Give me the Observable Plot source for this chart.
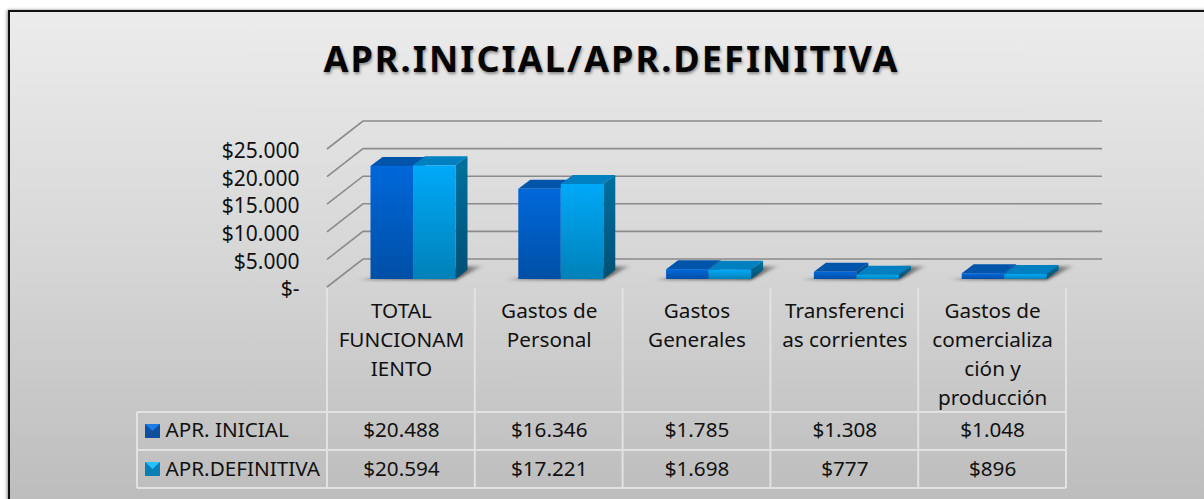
<!DOCTYPE html>
<html lang="es">
<head>
<meta charset="utf-8">
<title>APR.INICIAL/APR.DEFINITIVA</title>
<script src="https://cdn.jsdelivr.net/npm/d3@7"></script>
<script src="https://cdn.jsdelivr.net/npm/@observablehq/plot@0.6"></script>
<style>
  html, body { margin: 0; padding: 0; width: 1204px; height: 499px; overflow: hidden; background: #fff; }
  #panel { position: absolute; left: 8px; top: 10px; width: 1210px; height: 500px; box-sizing: border-box;
    border: 2px solid #111; background: linear-gradient(180deg, #ececec 0%, #d6d6d6 50%, #bcbcbc 100%);
    box-shadow: -1px 0 3px rgba(0,0,0,.45); }
  #title { position: absolute; left: 0; width: 1223px; top: 37px; margin: 0; text-align: center; color: #050505;
    font: 700 36px/44px "Noto Sans", sans-serif; letter-spacing: 2.1px; text-shadow: 1px 2px 3px rgba(0,0,0,.4); }
  #chart { position: absolute; left: 0; top: 0; }
  #chart svg { display: block; background: transparent; }
</style>
</head>
<body>
<div id="panel"></div>
<h1 id="title">APR.INICIAL/APR.DEFINITIVA</h1>
<div id="chart"></div>
<script>
const categories = ["TOTAL FUNCIONAMIENTO", "Gastos de Personal", "Gastos Generales", "Transferencias corrientes", "Gastos de comercialización y producción"];
const categoryLabels = ["TOTAL\nFUNCIONAM\nIENTO", "Gastos de\nPersonal", "Gastos\nGenerales", "Transferenci\nas corrientes", "Gastos de\ncomercializa\nción y\nproducción"];
const aprInicial = [20488, 16346, 1785, 1308, 1048];
const aprDefinitiva = [20594, 17221, 1698, 777, 896];
const seriesNames = ["APR. INICIAL", "APR.DEFINITIVA"];
const yTicks = [0, 5000, 10000, 15000, 20000, 25000];

const money = v => v === 0 ? "$-" : "$" + d3.format(",")(v).replace(/,/g, ".");
const rows = values => categories.map((cat, i) => ({cat, value: values[i]}));
const rowsA = rows(aprInicial), rowsB = rows(aprDefinitiva);

const FONT = '"Noto Sans", sans-serif';
const depth = {dx: 36, dy: -28};          // wall depth
const barShift = {dx: 0, dy: -8};         // bars stand a little inside the floor
const box = {dx: 12, dy: -9};             // depth of each bar
const barInset = 43.5, barWidth = 42.5;
const tableTop = 412, tableMid = 450, tableBottom = 488, tableLeft = 137, headTop = 288;

const poly = (g, pts, fill) => g.append("polygon").attr("points", pts.map(p => p.join(",")).join(" ")).attr("fill", fill);

function defs(g) {
  const d = g.append("defs");
  const grad = (id, c1, c2) => {
    const l = d.append("linearGradient").attr("id", id).attr("gradientUnits", "objectBoundingBox").attr("x1", 0).attr("y1", 0).attr("x2", 0).attr("y2", 1);
    l.append("stop").attr("offset", 0).attr("stop-color", c1);
    l.append("stop").attr("offset", 1).attr("stop-color", c2);
  };
  grad("frontA", "#0068da", "#004fa6");
  grad("frontB", "#00a9f8", "#0081b9");
  grad("sideA", "#004f9c", "#003c78");
  grad("sideB", "#00719f", "#004f74");
  const s = d.append("linearGradient").attr("id", "shadow").attr("x1", 0).attr("y1", 0).attr("x2", 1).attr("y2", 0);
  s.append("stop").attr("offset", 0).attr("stop-color", "#444").attr("stop-opacity", 0);
  s.append("stop").attr("offset", .12).attr("stop-color", "#444").attr("stop-opacity", .55);
  s.append("stop").attr("offset", .8).attr("stop-color", "#333").attr("stop-opacity", .85);
  s.append("stop").attr("offset", 1).attr("stop-color", "#333").attr("stop-opacity", .1);
  d.append("filter").attr("id", "blur").attr("x", "-20%").attr("y", "-50%").attr("width", "140%").attr("height", "200%")
    .append("feGaussianBlur").attr("stdDeviation", 1.4);
}

// Walls, gridlines and the data-table rules, positioned from the plot's scales.
function frameMark(index, {x, y}) {
  const g = d3.create("svg:g");
  defs(g);
  const xStart = x(categories[0]);
  const xEnd = x(categories[categories.length - 1]) + x.bandwidth();
  for (const t of yTicks) {
    g.append("polyline")
      .attr("points", `${xStart},${y(t)} ${xStart + depth.dx},${y(t) + depth.dy} ${xEnd + depth.dx},${y(t) + depth.dy}`)
      .attr("fill", "none").attr("stroke", "#8b8b8b").attr("stroke-width", 1.6);
  }
  const rule = (x1, y1, x2, y2) => g.append("line").attr("x1", x1).attr("y1", y1).attr("x2", x2).attr("y2", y2)
    .attr("stroke", "#e2e2e2").attr("stroke-width", 2);
  for (const c of categories) rule(x(c), headTop, x(c), tableBottom);
  rule(xEnd, headTop, xEnd, tableBottom);
  rule(tableLeft, tableTop, tableLeft, tableBottom);
  for (const yy of [tableTop, tableMid, tableBottom]) rule(tableLeft, yy, xEnd, yy);
  // legend keys of the data table
  const key = (y0, base, top) => {
    const x0 = tableLeft + 8, s = 15;
    poly(g, [[x0, y0], [x0 + s, y0], [x0 + s, y0 + s - 1], [x0, y0 + s - 1]], base);
    poly(g, [[x0, y0], [x0 + s, y0], [x0 + s / 2, y0 + 7]], top);
  };
  key(tableTop + 12, "#0e4f9e", "#1c7ce6");
  key(tableMid + 12, "#0a7fb6", "#25c2ff");
  return g.node();
}

// Floor shadow of each pair of bars
function shadowRender(I, scales, v) {
  const g = d3.create("svg:g");
  for (const i of I) {
    const x0 = v.x[i] + barInset, y0 = v.y1[i] + barShift.dy;
    g.append("polygon")
      .attr("points", `${x0 - 15},${y0 + 1} ${x0 + 2 * barWidth},${y0 + 1} ${x0 + 2 * barWidth + 28},${y0 - 13} ${x0 + 2 * barWidth + 14},${y0 - 13}`)
      .attr("fill", "url(#shadow)").attr("filter", "url(#blur)");
  }
  return g.node();
}

// One 3-D bar: front, top and side faces
const barRender = (slot, front, side, top) => (I, scales, v) => {
  const g = d3.create("svg:g");
  for (const i of I) {
    const x0 = v.x[i] + barInset + slot * barWidth, x1 = x0 + barWidth;
    const yb = v.y1[i] + barShift.dy, yt = v.y2[i] + barShift.dy;
    poly(g, [[x0, yt], [x1, yt], [x1 + box.dx, yt + box.dy], [x0 + box.dx, yt + box.dy]], top);
    poly(g, [[x1, yt], [x1 + box.dx, yt + box.dy], [x1 + box.dx, yb + box.dy], [x1, yb]], side);
    g.append("rect").attr("x", x0).attr("y", yt).attr("width", barWidth).attr("height", yb - yt).attr("fill", front);
  }
  return g.node();
};

const textOpts = {fontSize: 20.7, fill: "#111", fontFamily: FONT};
const legendOpts = {frameAnchor: "left", textAnchor: "start", dx: -162, lineAnchor: "middle", ...textOpts};

const plot = Plot.plot({
  width: 1204, height: 499,
  marginLeft: 327, marginRight: 138, marginTop: 149, marginBottom: 212,
  style: {background: "transparent", fontFamily: FONT},
  x: {type: "band", domain: categories, padding: 0, round: false, axis: null},
  y: {domain: [0, 25000]},
  marks: [
    frameMark,
    Plot.axisY({ticks: yTicks, tickSize: 0, tickPadding: 28, dy: 2, tickFormat: money, label: null, fontSize: 21, fill: "#111"}),
    Plot.barY(rowsB, {x: "cat", y: "value", render: shadowRender}),
    Plot.barY(rowsA, {x: "cat", y: "value", render: barRender(0, "url(#frontA)", "url(#sideA)", "#0055aa")}),
    Plot.barY(rowsB, {x: "cat", y: "value", render: barRender(1, "url(#frontB)", "url(#sideB)", "#0080c0")}),
    Plot.text(categories, {x: d => d, text: (d, i) => categoryLabels[i], frameAnchor: "top", lineAnchor: "top", dy: 148, lineHeight: 1.4, ...textOpts}),
    Plot.text(rowsA, {x: "cat", text: d => money(d.value), frameAnchor: "bottom", lineAnchor: "middle", dy: 143, ...textOpts}),
    Plot.text(rowsB, {x: "cat", text: d => money(d.value), frameAnchor: "bottom", lineAnchor: "middle", dy: 182, ...textOpts}),
    Plot.text([seriesNames[0]], {text: d => d, dy: 212, ...legendOpts}),
    Plot.text([seriesNames[1]], {text: d => d, dy: 251, ...legendOpts})
  ]
});
document.getElementById("chart").append(plot);
</script>
</body>
</html>
